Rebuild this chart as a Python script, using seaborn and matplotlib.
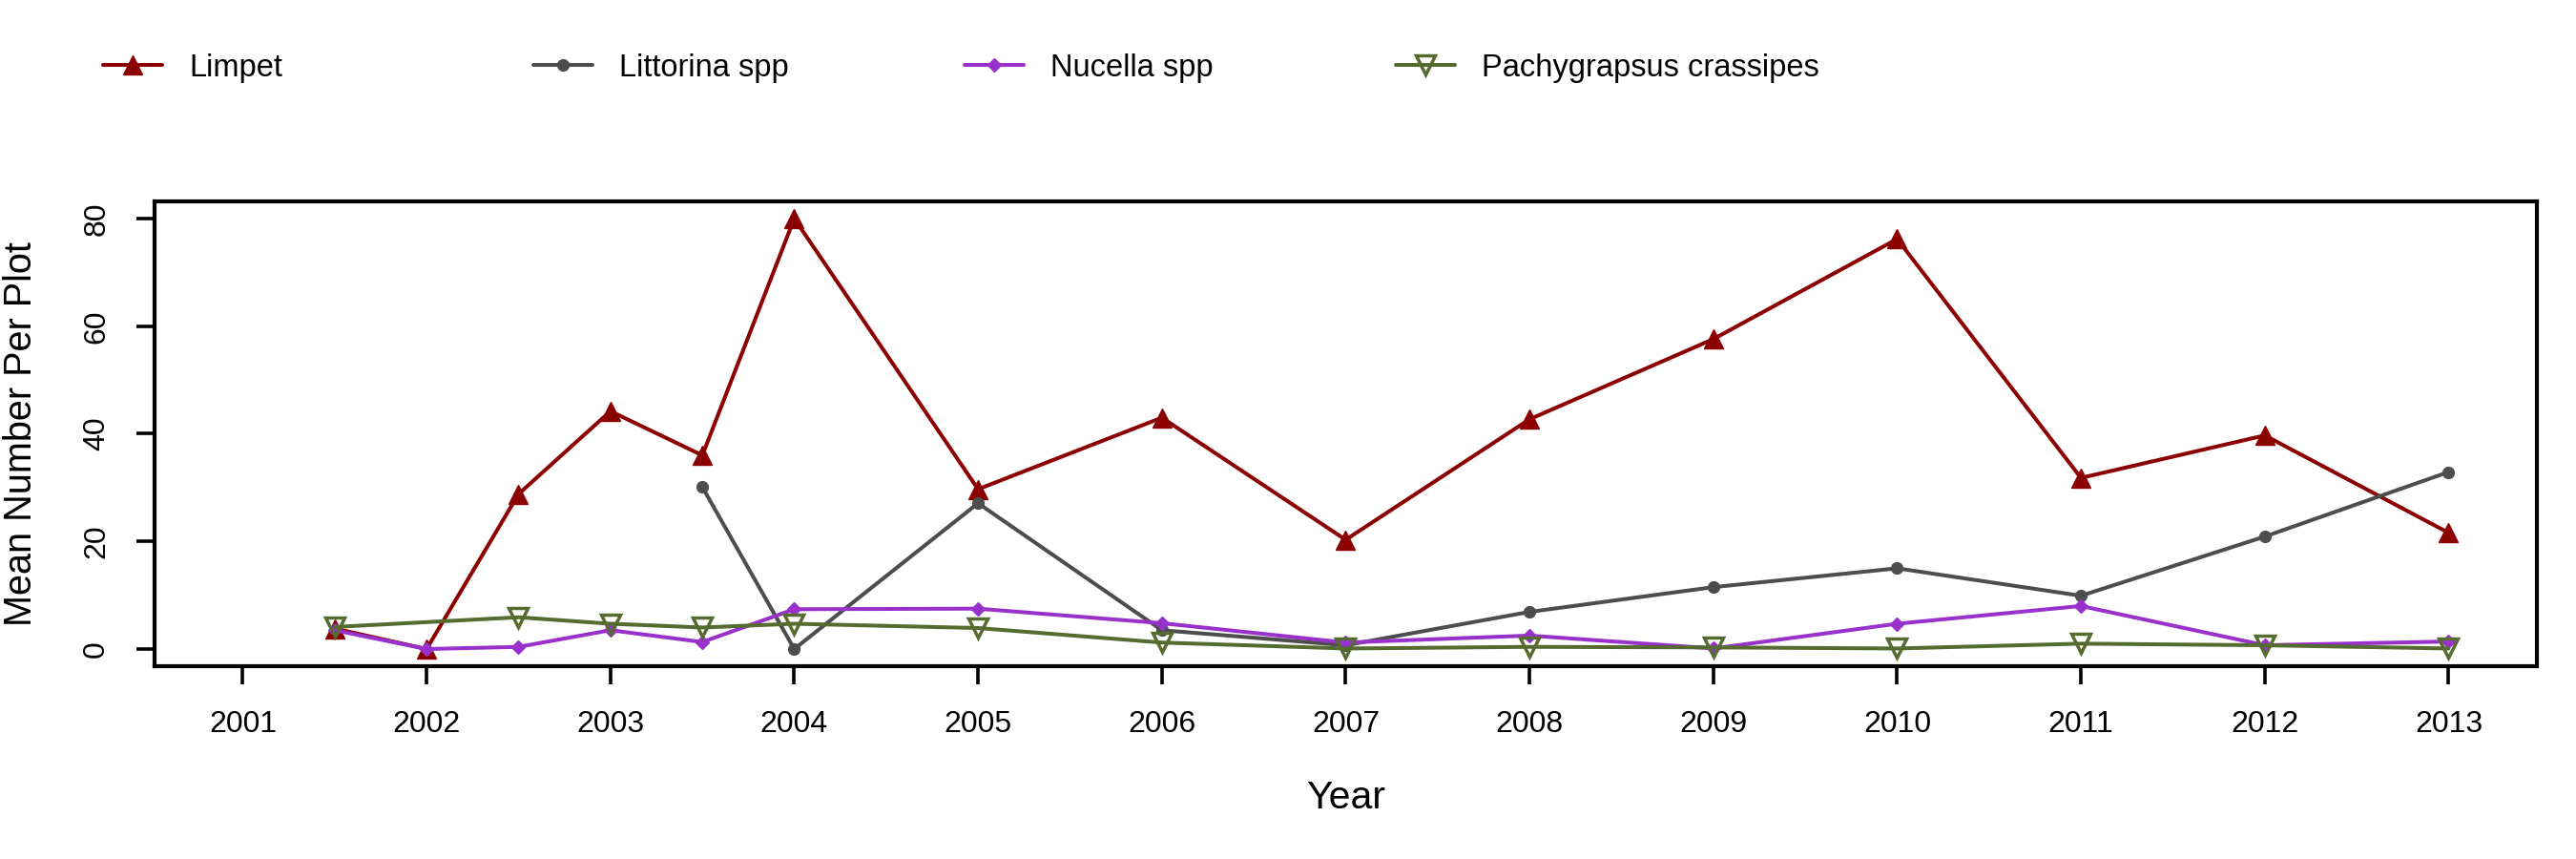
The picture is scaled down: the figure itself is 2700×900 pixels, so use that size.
import matplotlib
matplotlib.use("Agg")
import matplotlib.pyplot as plt
import seaborn as sns

# sampling times (spring / fall surveys in the early years)
years_limpet = [2001.5, 2002, 2002.5, 2003, 2003.5, 2004, 2005, 2006, 2007, 2008, 2009, 2010, 2011, 2012, 2013]
limpet = [3.8, 0.0, 28.8, 44.2, 36.0, 80.0, 29.7, 43.0, 20.3, 42.7, 57.6, 76.2, 31.8, 39.7, 21.6]

years_littorina = [2003.5, 2004, 2005, 2006, 2007, 2008, 2009, 2010, 2011, 2012, 2013]
littorina = [30.1, 0.0, 27.1, 3.5, 0.7, 6.9, 11.5, 15.0, 9.9, 20.9, 32.9]

years_nucella = [2001.5, 2002, 2002.5, 2003, 2003.5, 2004, 2005, 2006, 2007, 2008, 2009, 2010, 2011, 2012, 2013]
nucella = [3.5, 0.0, 0.4, 3.5, 1.3, 7.4, 7.5, 4.8, 1.2, 2.5, 0.1, 4.7, 8.0, 0.7, 1.4]

years_pachy = [2001.5, 2002.5, 2003, 2003.5, 2004, 2005, 2006, 2007, 2008, 2009, 2010, 2011, 2012, 2013]
pachy = [4.1, 5.9, 4.7, 4.0, 4.7, 3.9, 1.2, 0.1, 0.4, 0.3, 0.1, 1.0, 0.7, 0.1]

year_ticks = list(range(2001, 2014))
y_ticks = [0, 20, 40, 60, 80]

sns.set_theme(style="white")
plt.rcParams['font.family'] = ['Liberation Sans', 'DejaVu Sans']
plt.rcParams['text.color'] = 'black'
plt.rcParams['axes.labelcolor'] = 'black'

fig = plt.figure(figsize=(27, 9), dpi=100)
ax = fig.add_axes([0.06, 0.2244, 0.9248, 0.5412])

series = [
    ("Limpet", years_limpet, limpet, "#8B0000", dict(marker="^", markersize=14, mfc="#8B0000", mew=1)),
    ("Littorina spp", years_littorina, littorina, "#4D4D4D", dict(marker="o", markersize=8.5, mfc="#4D4D4D", mew=1)),
    ("Nucella spp", years_nucella, nucella, "#9932CC", dict(marker="D", markersize=7, mfc="#9932CC", mew=1)),
    ("Pachygrapsus crassipes", years_pachy, pachy, "#556B2F", dict(marker="v", markersize=15, mfc="none", mew=2.5)),
]

handles = []
for name, xs, ys, col, mk in series:
    sns.lineplot(x=xs, y=ys, ax=ax, color=col, linewidth=2.9, sort=False, estimator=None,
                 mec=col, **mk)
    handles.append((ax.lines[-1], name))

ax.set_xlim(2000.52, 2013.48)
ax.set_ylim(-3.2, 83.2)
ax.set_xticks(year_ticks)
ax.set_xticklabels([str(y) for y in year_ticks])
ax.set_yticks(y_ticks)
ax.tick_params(axis="both", direction="out", length=14, width=2.6, labelsize=23,
               bottom=True, left=True, colors="black")
ax.tick_params(axis="x", pad=19)
ax.tick_params(axis="y", pad=19, labelrotation=90)
for lab in ax.get_yticklabels():
    lab.set_va("center")
for sp in ax.spines.values():
    sp.set_linewidth(3.0)
    sp.set_color("black")

ax.set_xlabel("Year", fontsize=29.5)
ax.xaxis.set_label_coords(0.5, -0.284)
ax.xaxis.label.set_va("center")
ax.set_ylabel("Mean Number Per Plot", fontsize=28.5)
ax.yaxis.set_label_coords(-0.056, 0.5)
ax.yaxis.label.set_va("center")

leg_x = [0.040, 0.207, 0.3744, 0.5419]
for (h, name), lx in zip(handles, leg_x):
    fig.legend([h], [name], loc="center left", bbox_to_anchor=(lx, 0.921),
               frameon=False, fontsize=23.5, handlelength=1.9, handletextpad=0.86,
               borderpad=0, borderaxespad=0, numpoints=1)

fig.savefig("out.png", dpi=100)
